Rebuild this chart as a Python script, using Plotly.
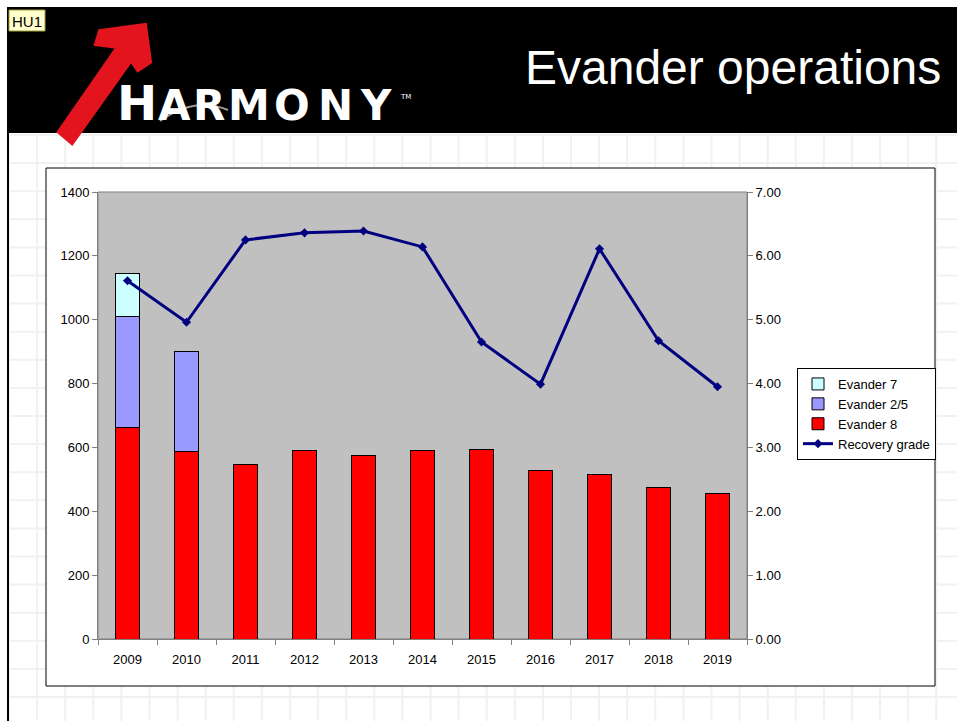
import plotly.graph_objects as go

# Data
years = ["2009", "2010", "2011", "2012", "2013", "2014", "2015", "2016", "2017", "2018", "2019"]
evander_8 = [661, 586, 545, 589, 576, 589, 595, 529, 514, 476, 457]
evander_25 = [350, 313, None, None, None, None, None, None, None, None, None]
evander_7 = [135, None, None, None, None, None, None, None, None, None, None]
recovery_grade = [5.61, 4.96, 6.25, 6.36, 6.39, 6.14, 4.65, 3.99, 6.11, 4.67, 3.95]

W, H = 957, 721
L, R, T, B = 98, 747, 192, 639  # plot area in pixels
FONT = "Liberation Sans, Arial, sans-serif"


def px(x):
    return (x - L) / (R - L)


def py(y):
    return (B - y) / (B - T)


fig = go.Figure()

fig.add_trace(go.Bar(x=years, y=evander_8, name="Evander 8", legendrank=3,
                     marker=dict(color="#FF0000", line=dict(color="#000000", width=1))))
fig.add_trace(go.Bar(x=years, y=evander_25, name="Evander 2/5", legendrank=2,
                     marker=dict(color="#9999FF", line=dict(color="#000000", width=1))))
fig.add_trace(go.Bar(x=years, y=evander_7, name="Evander 7", legendrank=1,
                     marker=dict(color="#CCFFFF", line=dict(color="#000000", width=1))))
fig.add_trace(go.Scatter(x=years, y=recovery_grade, name="Recovery grade", yaxis="y2",
                         legendrank=4, mode="lines+markers",
                         line=dict(color="#000080", width=3),
                         marker=dict(symbol="diamond", size=7, color="#000080")))

shapes = []
# faint slide grid
gx = 9
while gx < W:
    shapes.append(dict(type="line", xref="paper", yref="paper", x0=px(gx), x1=px(gx),
                       y0=py(133), y1=py(H), layer="below",
                       line=dict(color="#F1F1F1", width=2)))
    gx += 28.1
gy = 135
while gy < H:
    shapes.append(dict(type="line", xref="paper", yref="paper", x0=px(7), x1=px(W),
                       y0=py(gy), y1=py(gy), layer="below",
                       line=dict(color="#F1F1F1", width=2)))
    gy += 28.1
# white chart box
shapes.append(dict(type="rect", xref="paper", yref="paper", x0=px(46), x1=px(935),
                   y0=py(686), y1=py(168), layer="below", fillcolor="white",
                   line=dict(color="#000000", width=1)))
# grey plot area (drawn over the white box)
shapes.append(dict(type="rect", xref="paper", yref="paper", x0=0, x1=1, y0=0, y1=1,
                   layer="below", fillcolor="#C0C0C0", line=dict(color="#808080", width=1)))
# black header and left rule
shapes.append(dict(type="rect", xref="paper", yref="paper", x0=px(7), x1=px(W),
                   y0=py(133), y1=py(7), layer="above", fillcolor="#000000",
                   line=dict(width=0)))
shapes.append(dict(type="line", xref="paper", yref="paper", x0=px(8), x1=px(8),
                   y0=py(7), y1=py(H), layer="above", line=dict(color="#000000", width=2)))
# red arrow of the logo
arrow = [(59, 132), (72, 143), (131, 60), (138, 70), (150, 62), (145, 25),
         (100, 31), (96, 44), (118, 47)]
path = "M " + " L ".join(f"{px(a)},{py(b)}" for a, b in arrow) + " Z"
shapes.append(dict(type="path", xref="paper", yref="paper", path=path, layer="above",
                   fillcolor="#E3141E", line=dict(color="#E3141E", width=4)))
# swoosh under the logo letters
shapes.append(dict(type="path", xref="paper", yref="paper", layer="above",
                   path=f"M {px(160)},{py(121)} Q {px(195)},{py(96)} {px(228)},{py(110)}",
                   line=dict(color="#9A9A9A", width=2)))
# HU1 tag
shapes.append(dict(type="rect", xref="paper", yref="paper", x0=px(9), x1=px(45),
                   y0=py(31), y1=py(10), layer="above", fillcolor="#FFFFCC",
                   line=dict(color="#A0A040", width=1)))

annotations = [
    dict(text="Evander operations", xref="paper", yref="paper", x=px(943), y=py(67),
         xanchor="right", yanchor="middle", showarrow=False,
         font=dict(family=FONT, size=48, color="white")),
    dict(text="HU1", xref="paper", yref="paper", x=px(27), y=py(21),
         xanchor="center", yanchor="middle", showarrow=False,
         font=dict(family=FONT, size=15, color="black")),
    dict(text="TM", xref="paper", yref="paper", x=px(405), y=py(97),
         xanchor="center", yanchor="middle", showarrow=False,
         font=dict(family="DejaVu Sans, sans-serif", size=7, color="white")),
]
letters = [("H", 137, 48), ("A", 174, 42), ("R", 209, 42), ("M", 249, 42),
           ("O", 292, 42), ("N", 335, 42), ("Y", 376, 42)]
for ch, cx, sz in letters:
    annotations.append(dict(text=f"<b>{ch}</b>", xref="paper", yref="paper",
                            x=px(cx), y=py(122 + round(sz * 0.23)), xanchor="center",
                            yanchor="bottom", showarrow=False,
                            font=dict(family="DejaVu Sans, sans-serif", size=sz, color="white")))

fig.update_layout(
    width=W, height=H,
    margin=dict(l=L, r=W - R, t=T, b=H - B, pad=0),
    paper_bgcolor="white",
    plot_bgcolor="rgba(0,0,0,0)",
    barmode="stack",
    bargap=0.59,
    font=dict(family=FONT, size=13, color="black"),
    xaxis=dict(type="category", range=[-0.5, len(years) - 0.5], tickson="boundaries",
               ticks="outside", ticklen=5, tickcolor="#808080", showline=True,
               linecolor="#808080", showgrid=False, ticklabelstandoff=8),
    yaxis=dict(range=[0, 1400], dtick=200, ticks="outside", ticklen=5, tickcolor="#808080",
               showline=True, linecolor="#808080", showgrid=False, zeroline=False),
    yaxis2=dict(range=[0, 7], dtick=1, tickformat=".2f", overlaying="y", side="right",
                ticks="outside", ticklen=5, tickcolor="#808080", showline=True,
                linecolor="#808080", showgrid=False, zeroline=False),
    legend=dict(x=px(797), y=py(368), xanchor="left", yanchor="top", traceorder="normal",
                bgcolor="white", bordercolor="#000000", borderwidth=1,
                font=dict(family=FONT, size=13), itemwidth=30),
    shapes=shapes,
    annotations=annotations,
    showlegend=True,
)

fig.write_html("out.html", config={"displayModeBar": False},
               post_script="document.body.style.margin='0px';")
